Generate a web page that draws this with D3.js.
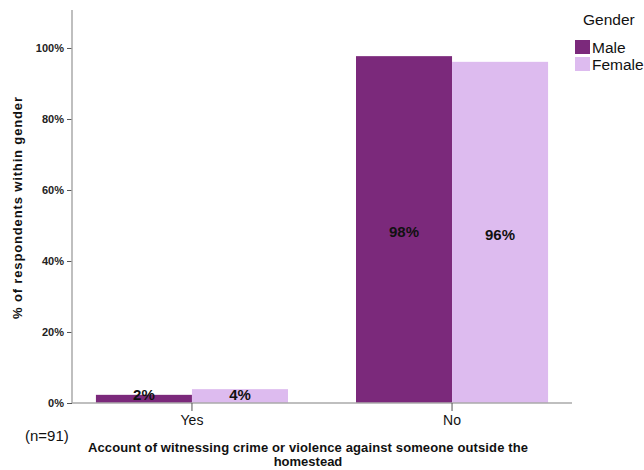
<!DOCTYPE html>
<html><head><meta charset="utf-8">
<script src="https://cdn.jsdelivr.net/npm/d3@7"></script>
<style>body{margin:0;background:#fff;font-family:Arial,"Liberation Sans",sans-serif;}</style>
</head><body>
<svg id="c" width="644" height="470"></svg>
<script>
const categories = ["Yes", "No"];
const genders = ["Male", "Female"];
const maleValues = [2.3, 97.7];
const femaleValues = [3.9, 96.1];
const valueLabels = [["2%", "98%"], ["4%", "96%"]];
const yTicks = [0, 20, 40, 60, 80, 100];
const colors = ["#7b297b", "#ddbbef"];

const svg = d3.select("#c");
const x0 = 72, x1 = 572, yBase = 403;
const y = d3.scaleLinear().domain([0, 110.7]).range([yBase, 10]);
const x = d3.scaleBand().domain(categories).range([x0, x1]).paddingInner(0.2615).paddingOuter(0.092);
const xg = d3.scaleBand().domain(genders).range([0, x.bandwidth()]);
const series = [maleValues, femaleValues];

// bars
genders.forEach((g, gi) => {
  categories.forEach((c, ci) => {
    const v = series[gi][ci];
    svg.append("rect")
      .attr("x", x(c) + xg(g)).attr("y", y(v))
      .attr("width", xg.bandwidth()).attr("height", yBase - y(v))
      .attr("fill", colors[gi]);
  });
});
// labels
genders.forEach((g, gi) => {
  categories.forEach((c, ci) => {
    const v = series[gi][ci];
    const cy = Math.min((y(v) + yBase) / 2 + 2, 394);
    svg.append("text")
      .attr("x", x(c) + xg(g) + xg.bandwidth() / 2).attr("y", cy)
      .attr("text-anchor", "middle").attr("dominant-baseline", "central")
      .attr("font-size", 15).attr("font-weight", "bold").attr("fill", "#111")
      .text(valueLabels[gi][ci]);
  });
});

// y axis
const yAxis = d3.axisLeft(y).tickValues(yTicks).tickFormat(d => d + "%").tickSize(5).tickPadding(3);
const ya = svg.append("g").attr("transform", `translate(${x0},0)`).call(yAxis);
ya.select(".domain").remove();
ya.selectAll("line").attr("stroke", "#555");
ya.selectAll("text").attr("font-size", 11).attr("font-weight", "bold").attr("fill", "#222").attr("font-family", "Arial, Liberation Sans, sans-serif");
svg.append("line").attr("x1", x0).attr("x2", x0).attr("y1", 10).attr("y2", yBase).attr("stroke", "#aaa").attr("stroke-width", 1.5);

// x axis
svg.append("line").attr("x1", x0).attr("x2", x1).attr("y1", yBase).attr("y2", yBase).attr("stroke", "#aaa").attr("stroke-width", 1.5);
const xa = svg.append("g").attr("transform", `translate(0,${yBase})`)
  .call(d3.axisBottom(x).tickSize(8).tickPadding(4));
xa.select(".domain").remove();
xa.selectAll("line").attr("stroke", "#555");
xa.selectAll("text").attr("font-size", 14).attr("fill", "#111").attr("font-family", "Arial, Liberation Sans, sans-serif");

// titles
svg.append("text").attr("transform", "translate(22,208) rotate(-90)")
  .attr("text-anchor", "middle").attr("font-size", 13).attr("font-weight", "bold").attr("fill", "#111")
  .attr("textLength", 222).attr("lengthAdjust", "spacing")
  .text("% of respondents within gender");
svg.append("text").attr("x", 25).attr("y", 441).attr("font-size", 15).attr("fill", "#111").text("(n=91)");
const xt = svg.append("text").attr("text-anchor", "middle").attr("font-size", 13).attr("font-weight", "bold").attr("fill", "#111");
xt.append("tspan").attr("x", 308).attr("y", 452).attr("textLength", 440).attr("lengthAdjust", "spacing")
  .text("Account of witnessing crime or violence against someone outside the");
xt.append("tspan").attr("x", 308).attr("y", 466).text("homestead");

// legend
svg.append("text").attr("x", 583).attr("y", 25).attr("font-size", 15.5).attr("fill", "#111").text("Gender");
genders.forEach((g, i) => {
  svg.append("rect").attr("x", 575).attr("y", 40 + i * 17).attr("width", 15).attr("height", 14).attr("fill", colors[i]);
  svg.append("text").attr("x", 592).attr("y", 53 + i * 17).attr("font-size", 15.5).attr("fill", "#111").text(g);
});
</script>
</body></html>
